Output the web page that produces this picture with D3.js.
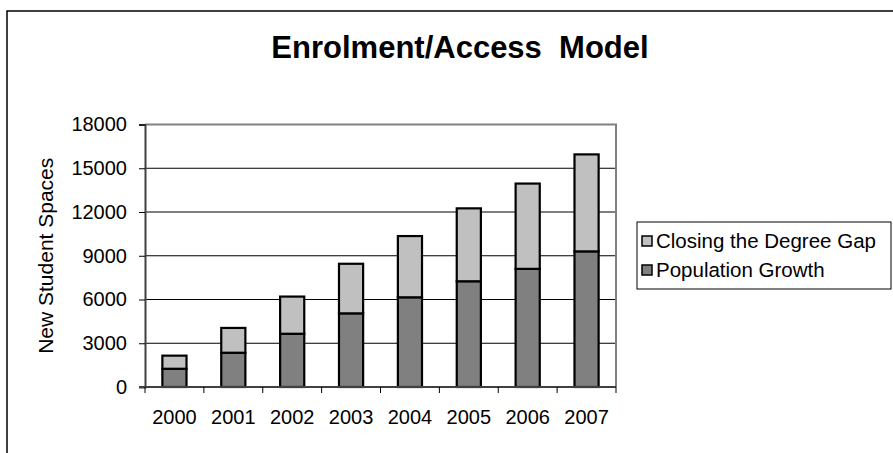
<!DOCTYPE html>
<html>
<head>
<meta charset="utf-8">
<script src="https://cdn.jsdelivr.net/npm/d3@7"></script>
<style>
  html, body { margin: 0; padding: 0; background: #fff; }
  svg { display: block; font-family: "Liberation Sans", Arial, sans-serif; }
</style>
</head>
<body>
<svg id="chart" width="893" height="453"></svg>
<script>
// Enrolment/Access model: new student spaces by year, stacked by source
const years = ["2000", "2001", "2002", "2003", "2004", "2005", "2006", "2007"];
const populationGrowth = [1250, 2350, 3650, 5050, 6150, 7250, 8100, 9300];
const closingDegreeGap = [900, 1700, 2550, 3400, 4200, 5000, 5850, 6650];
const seriesNames = ["Population Growth", "Closing the Degree Gap"];
const seriesColors = ["#808080", "#c0c0c0"];
const yTicks = [0, 3000, 6000, 9000, 12000, 15000, 18000];

const svg = d3.select("#chart");

// outer chart frame
svg.append("rect")
  .attr("x", 7).attr("y", 11)
  .attr("width", 900).attr("height", 460)
  .attr("fill", "none").attr("stroke", "#000").attr("stroke-width", 1.5);

// title
svg.append("text")
  .attr("x", 460).attr("y", 58)
  .attr("text-anchor", "middle")
  .attr("font-size", 31).attr("font-weight", "bold")
  .attr("xml:space", "preserve")
  .text("Enrolment/Access  Model");

const plot = { left: 145, right: 616, top: 124.5, bottom: 387 };

const x = d3.scaleBand().domain(years).range([plot.left, plot.right]).paddingInner(0.59).paddingOuter(0.295);
const xTicks = d3.scaleBand().domain(years).range([plot.left, plot.right]);
const y = d3.scaleLinear().domain([0, 18000]).range([plot.bottom, plot.top]);

// gridlines
svg.append("g")
  .selectAll("line")
  .data(yTicks.filter(v => v > 0 && v < 18000))
  .join("line")
  .attr("x1", plot.left).attr("x2", plot.right)
  .attr("y1", d => y(d)).attr("y2", d => y(d))
  .attr("stroke", "#000").attr("stroke-width", 1);

// plot border (top and right)
svg.append("path")
  .attr("d", `M${plot.left},${y(18000)}H${plot.right}V${plot.bottom}`)
  .attr("fill", "none").attr("stroke", "#808080").attr("stroke-width", 2);

// stacked bars
const table = years.map((yr, i) => ({
  year: yr,
  "Population Growth": populationGrowth[i],
  "Closing the Degree Gap": closingDegreeGap[i]
}));
const stacked = d3.stack().keys(seriesNames)(table);

svg.append("g")
  .selectAll("g")
  .data(stacked)
  .join("g")
  .attr("fill", (d, i) => seriesColors[i])
  .selectAll("rect")
  .data(d => d)
  .join("rect")
  .attr("x", d => x(d.data.year))
  .attr("width", x.bandwidth())
  .attr("y", d => y(d[1]))
  .attr("height", d => y(d[0]) - y(d[1]))
  .attr("stroke", "#000").attr("stroke-width", 2.2);

// y axis
const yAxis = svg.append("g")
  .attr("transform", `translate(${plot.left},0)`)
  .call(d3.axisLeft(y).tickValues(yTicks).tickFormat(d3.format("d")).tickSize(6).tickPadding(12));
yAxis.select(".domain").attr("stroke", "#404040").attr("stroke-width", 2);
yAxis.selectAll(".tick line").attr("stroke", "#000");
yAxis.selectAll(".tick text").attr("font-size", 20).attr("fill", "#000")
  .attr("font-family", "Liberation Sans, Arial, sans-serif");

// x axis (ticks at category boundaries)
const xAxis = svg.append("g")
  .attr("transform", `translate(0,${plot.bottom})`);
xAxis.append("line")
  .attr("x1", plot.left - 6).attr("x2", plot.right)
  .attr("stroke", "#404040").attr("stroke-width", 2);
xAxis.selectAll("line.tick")
  .data(years.concat(["end"]))
  .join("line")
  .attr("class", "tick")
  .attr("x1", (d, i) => plot.left + i * xTicks.step())
  .attr("x2", (d, i) => plot.left + i * xTicks.step())
  .attr("y1", 0).attr("y2", 6)
  .attr("stroke", "#000");
xAxis.selectAll("text")
  .data(years)
  .join("text")
  .attr("x", d => xTicks(d) + xTicks.bandwidth() / 2)
  .attr("y", 37)
  .attr("text-anchor", "middle")
  .attr("font-size", 20)
  .text(d => d);

// y axis title
svg.append("text")
  .attr("transform", `translate(53,${(plot.top + plot.bottom) / 2}) rotate(-90)`)
  .attr("text-anchor", "middle")
  .attr("font-size", 21)
  .text("New Student Spaces");

// legend
const legend = svg.append("g");
legend.append("rect")
  .attr("x", 637).attr("y", 222)
  .attr("width", 254).attr("height", 67)
  .attr("fill", "#fff").attr("stroke", "#000").attr("stroke-width", 1);
const legendItems = [
  { name: "Closing the Degree Gap", color: seriesColors[1] },
  { name: "Population Growth", color: seriesColors[0] }
];
legendItems.forEach((item, i) => {
  const cy = 241 + i * 29;
  legend.append("rect")
    .attr("x", 642).attr("y", cy - 5)
    .attr("width", 10).attr("height", 10)
    .attr("fill", item.color).attr("stroke", "#000").attr("stroke-width", 1.5);
  legend.append("text")
    .attr("x", 656).attr("y", cy + 7)
    .attr("font-size", 20.5)
    .text(item.name);
});
</script>
</body>
</html>
